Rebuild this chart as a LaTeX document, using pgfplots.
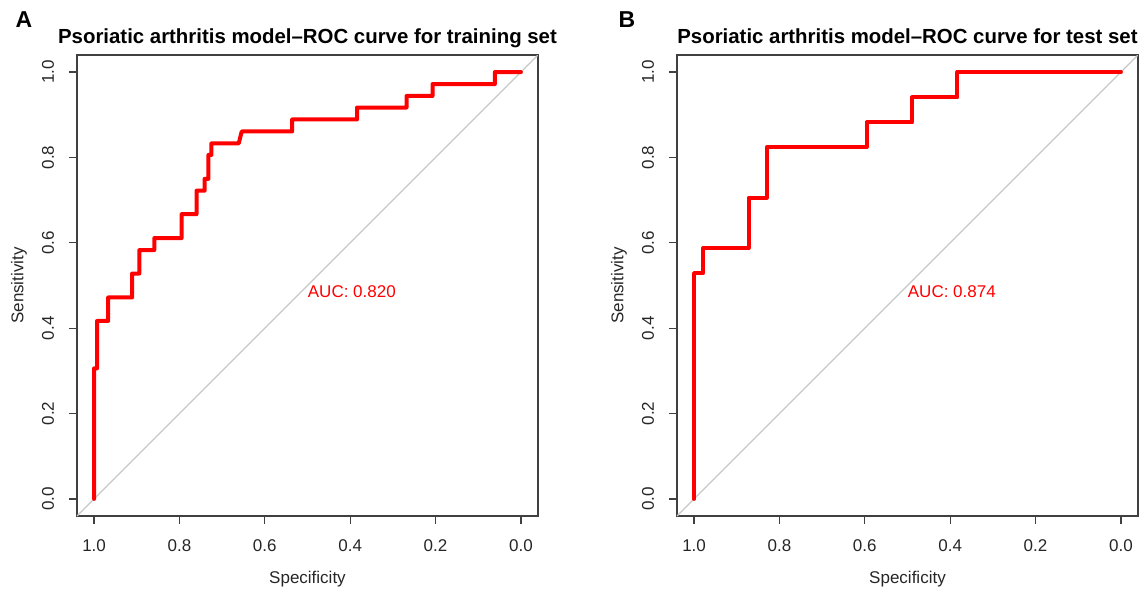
\documentclass[border=0pt]{standalone}
\usepackage{pgfplots}
\pgfplotsset{compat=1.18}
\usepackage{fontspec}
\setmainfont{Liberation Sans}

% 1 px of the reference = 0.5pt
\pgfplotsset{
  rocaxis/.style={
    anchor=south west, scale only axis,
    width=230.5pt, height=230.5pt,
    xmin=-0.04, xmax=1.04, ymin=-0.04, ymax=1.04,
    x dir=reverse,
    xtick={0,0.2,0.4,0.6,0.8,1}, ytick={0,0.2,0.4,0.6,0.8,1},
    xtick pos=lower, ytick pos=left,
    tick align=outside, major tick length=4pt,
    tick style={black!75, line width=0.6pt},
    axis line style={black!75, line width=0.6pt},
    /pgf/number format/assume math mode=true,
    /pgf/number format/.cd, fixed, fixed zerofill, precision=1, /pgfplots/.cd,
    ticklabel style={font=\fontsize{8.5}{10}\selectfont, text=black!85},
    xticklabel style={anchor=center, yshift=-11pt},
    yticklabel style={rotate=90, anchor=center, yshift=10.5pt},
    xlabel={Specificity}, ylabel={Sensitivity},
    label style={font=\fontsize{8.5}{10}\selectfont, text=black!85},
    xlabel style={at={(axis description cs:0.5,0)}, anchor=center, yshift=-31.5pt},
    ylabel style={at={(axis description cs:0,0.5)}, anchor=center, yshift=29pt},
    title style={at={(axis description cs:0.5,1)}, anchor=base, yshift=0pt,
      font=\bfseries\fontsize{10.2}{12}\selectfont},
    clip=true,
  },
  diag/.style={color=black!22, line width=0.6pt},
  roc/.style={color=red, line width=2pt, line join=round, line cap=round},
}

\begin{document}
\begin{tikzpicture}
\useasboundingbox (0,0) rectangle (573.5pt,295pt);

\begin{axis}[rocaxis, at={(38.5pt,37pt)},
  title={Psoriatic arthritis model\textendash ROC curve for training set}]
  \addplot [diag] coordinates {(1.04,-0.04) (-0.04,1.04)};
  \addplot [roc] coordinates {
    (1,0) (1,0.306) (0.993,0.306) (0.993,0.417) (0.967,0.417) (0.967,0.472)
    (0.911,0.472) (0.911,0.528) (0.894,0.528) (0.894,0.583) (0.859,0.583)
    (0.859,0.611) (0.795,0.611) (0.795,0.667) (0.760,0.667) (0.760,0.722)
    (0.741,0.722) (0.741,0.750) (0.732,0.750) (0.732,0.806) (0.725,0.806)
    (0.725,0.833) (0.661,0.833) (0.654,0.861) (0.536,0.861) (0.536,0.889)
    (0.384,0.889) (0.384,0.917) (0.268,0.917) (0.268,0.944) (0.207,0.944)
    (0.207,0.972) (0.061,0.972) (0.061,1) (0,1)
  };
  \node [anchor=north west, inner sep=0pt, text=red, font=\fontsize{8.5}{10}\selectfont]
    at (axis cs:0.5,0.5) {AUC: 0.820};
\end{axis}

\begin{axis}[rocaxis, at={(338.5pt,37pt)},
  title={Psoriatic arthritis model\textendash ROC curve for test set}]
  \addplot [diag] coordinates {(1.04,-0.04) (-0.04,1.04)};
  \addplot [roc] coordinates {
    (1,0) (1,0.529) (0.979,0.529) (0.979,0.588) (0.872,0.588) (0.872,0.706)
    (0.830,0.706) (0.830,0.824) (0.596,0.824) (0.596,0.882) (0.489,0.882)
    (0.489,0.941) (0.383,0.941) (0.383,1) (0,1)
  };
  \node [anchor=north west, inner sep=0pt, text=red, font=\fontsize{8.5}{10}\selectfont]
    at (axis cs:0.5,0.5) {AUC: 0.874};
\end{axis}

\node [anchor=base, font=\bfseries\fontsize{11.5}{14}\selectfont] at (12pt,281pt) {A};
\node [anchor=base, font=\bfseries\fontsize{11.5}{14}\selectfont] at (313.5pt,281pt) {B};
\end{tikzpicture}
\end{document}
